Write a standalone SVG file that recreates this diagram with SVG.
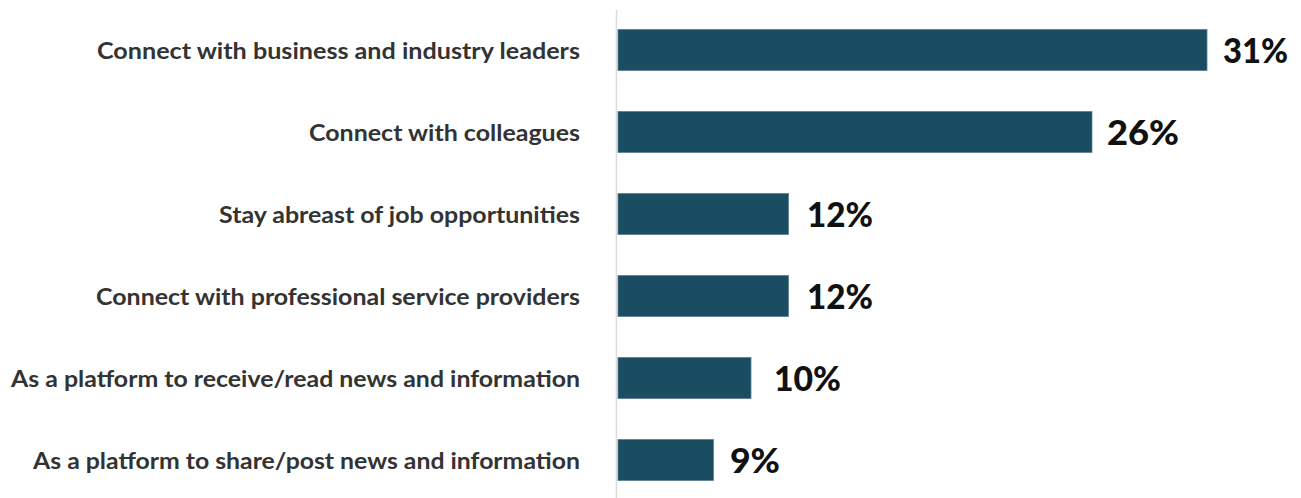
<svg xmlns="http://www.w3.org/2000/svg" width="1301" height="498" viewBox="0 0 1301 498">
<style>
.bar{fill:#1a4d62;stroke:#5d8194;stroke-width:0.8}
.lbl{font-family:Lato,"Liberation Sans",sans-serif;font-weight:700;font-size:22.5px;fill:#333333;text-anchor:end}
.val{font-family:Lato,"Liberation Sans",sans-serif;font-weight:900;font-size:35px;fill:#111111}
.axis{stroke:#dcdcdc;stroke-width:1.5}
</style>
<rect width="1301" height="498" fill="#ffffff"/>
<g id="axis"><line class="axis" x1="616.5" y1="10" x2="616.5" y2="498"/></g>
<g id="row1">
<text class="lbl" x="580" y="58.5" textLength="483" lengthAdjust="spacingAndGlyphs">Connect with business and industry leaders</text>
<rect class="bar" x="618" y="29.5" width="589" height="41"/>
<text class="val" x="1223" y="62.5" textLength="65" lengthAdjust="spacingAndGlyphs">31%</text>
</g>
<g id="row2">
<text class="lbl" x="580" y="140.5" textLength="271" lengthAdjust="spacingAndGlyphs">Connect with colleagues</text>
<rect class="bar" x="618" y="111.5" width="474" height="41"/>
<text class="val" x="1107" y="144.5" textLength="72" lengthAdjust="spacingAndGlyphs">26%</text>
</g>
<g id="row3">
<text class="lbl" x="580" y="222.5" textLength="361" lengthAdjust="spacingAndGlyphs">Stay abreast of job opportunities</text>
<rect class="bar" x="618" y="193.5" width="170.5" height="41"/>
<text class="val" x="807" y="226.5" textLength="66" lengthAdjust="spacingAndGlyphs">12%</text>
</g>
<g id="row4">
<text class="lbl" x="580" y="304.5" textLength="484" lengthAdjust="spacingAndGlyphs">Connect with professional service providers</text>
<rect class="bar" x="618" y="275.5" width="170.5" height="41"/>
<text class="val" x="807" y="308.5" textLength="66" lengthAdjust="spacingAndGlyphs">12%</text>
</g>
<g id="row5">
<text class="lbl" x="580" y="386.5" textLength="569" lengthAdjust="spacingAndGlyphs">As a platform to receive/read news and information</text>
<rect class="bar" x="618" y="357.5" width="133" height="41"/>
<text class="val" x="774" y="390.5" textLength="67" lengthAdjust="spacingAndGlyphs">10%</text>
</g>
<g id="row6">
<text class="lbl" x="580" y="468.5" textLength="547" lengthAdjust="spacingAndGlyphs">As a platform to share/post news and information</text>
<rect class="bar" x="618" y="439.5" width="95.5" height="41"/>
<text class="val" x="730" y="472.5" textLength="50" lengthAdjust="spacingAndGlyphs">9%</text>
</g>
</svg>
